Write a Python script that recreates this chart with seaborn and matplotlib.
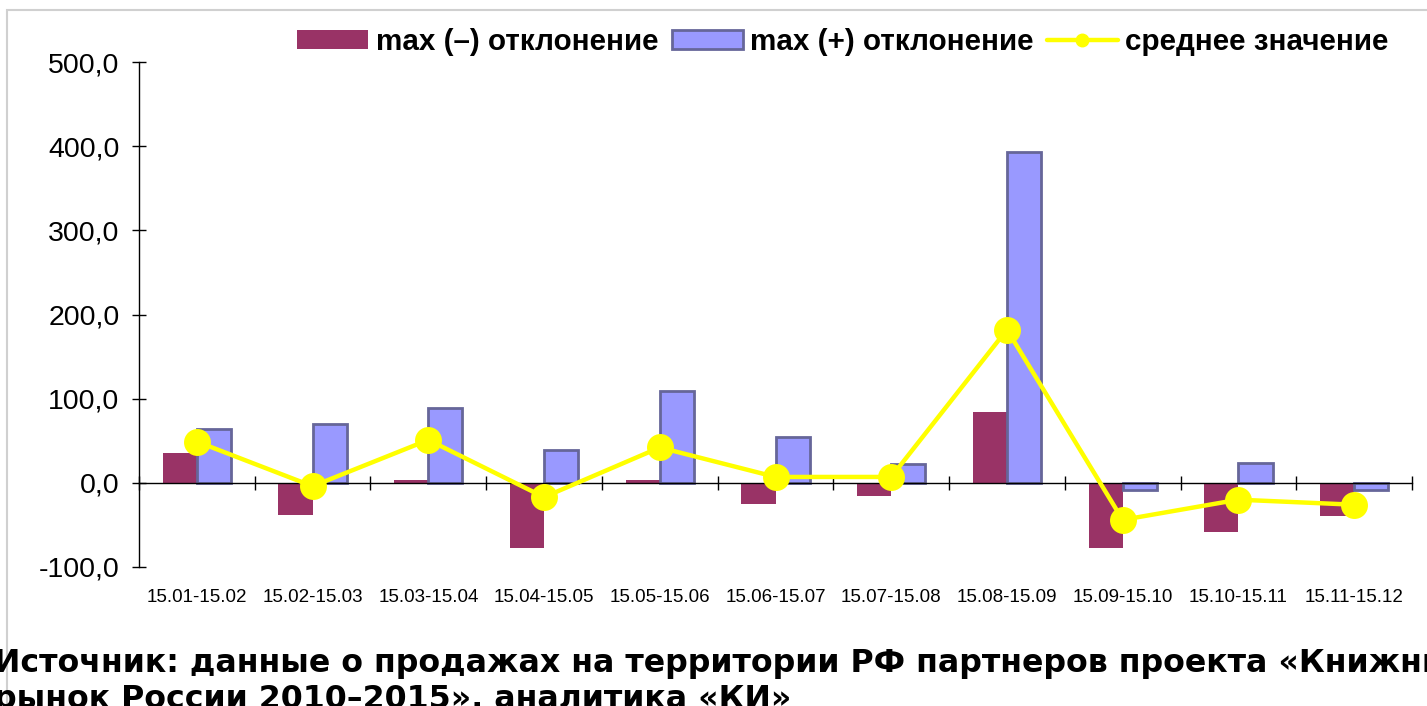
import pandas as pd
import matplotlib.pyplot as plt
import seaborn as sns
from matplotlib.patches import Patch, Rectangle
from matplotlib.lines import Line2D

# data
periods = ['15.01-15.02', '15.02-15.03', '15.03-15.04', '15.04-15.05', '15.05-15.06',
           '15.06-15.07', '15.07-15.08', '15.08-15.09', '15.09-15.10', '15.10-15.11',
           '15.11-15.12']
max_neg = [35, -38, 3, -78, 3, -25, -16, 84, -78, -58, -39]
max_pos = [64, 70, 89, 39, 109, 55, 22, 393, -8, 24, -8]
mean_val = [49, -4, 51, -17, 42, 7, 7, 182, -44, -20, -26]
yticks = [-100, 0, 100, 200, 300, 400, 500]

neg_label = 'max (–) отклонение'
pos_label = 'max (+) отклонение'
mean_label = 'среднее значение'

maroon = '#993366'
blue = '#9999FF'
edge = '#666699'
yellow = '#FFFF00'

df = pd.DataFrame({
    'period': periods * 2,
    'value': max_neg + max_pos,
    'series': [neg_label] * len(periods) + [pos_label] * len(periods),
})

sns.set_style('white')
plt.rcParams['font.family'] = ['Liberation Sans', 'DejaVu Sans']
plt.rcParams['text.color'] = 'black'
plt.rcParams['xtick.color'] = 'black'
plt.rcParams['ytick.color'] = 'black'

fig = plt.figure(figsize=(14.27, 7.06), dpi=100)
ax = fig.add_axes([139 / 1427, 1 - 567 / 706, (1412 - 139) / 1427, (567 - 62) / 706])

sns.barplot(data=df, x='period', y='value', hue='series', palette=[maroon, blue],
            width=0.59, saturation=1, errorbar=None, legend=False, ax=ax)
for bar in ax.containers[0]:
    bar.set_edgecolor('none')
for bar in ax.containers[1]:
    bar.set_edgecolor(edge)
    bar.set_linewidth(2)

n_lines = len(ax.lines)
n_coll = len(ax.collections)
sns.pointplot(x=periods, y=mean_val, color=yellow, errorbar=None,
              markersize=17, linewidth=3.2, ax=ax)
for ln in ax.lines[n_lines:]:
    ln.set_zorder(6)
for c in ax.collections[n_coll:]:
    c.set_zorder(6)

ax.set_xlim(-0.5, len(periods) - 0.5)
ax.set_ylim(-100, 500)
ax.set_xlabel('')
ax.set_ylabel('')

ax.spines['top'].set_visible(False)
ax.spines['right'].set_visible(False)
ax.spines['left'].set_color('black')
ax.spines['left'].set_linewidth(1)
ax.spines['bottom'].set_position(('data', 0))
ax.spines['bottom'].set_color('black')
ax.spines['bottom'].set_linewidth(1)
ax.spines['bottom'].set_zorder(3)

ax.set_yticks(yticks)
ax.set_yticklabels([f'{v:.1f}'.replace('.', ',') for v in yticks], fontsize=20.5)
ax.tick_params(axis='y', direction='inout', length=10, width=1, color='black', pad=9,
               left=True)

ax.set_xticks([i - 0.5 for i in range(len(periods) + 1)])
ax.set_xticklabels([])
ax.tick_params(axis='x', direction='inout', length=10, width=1, color='black', bottom=True)

sec = ax.secondary_xaxis(0)
sec.set_xticks(range(len(periods)))
sec.set_xticklabels(periods, fontsize=13.5)
sec.tick_params(length=0, pad=16)
sec.spines['bottom'].set_visible(False)

handles = [
    Patch(facecolor=maroon, edgecolor='none'),
    Patch(facecolor=blue, edgecolor=edge, linewidth=2),
    Line2D([], [], color=yellow, linewidth=3.2, marker='o', markersize=9),
]
fig.legend(handles, [neg_label, pos_label, mean_label], loc='center',
           bbox_to_anchor=(843 / 1427, 1 - 42 / 706), ncol=3, frameon=False,
           prop={'weight': 'bold', 'size': 21.3}, handlelength=2.4, handleheight=0.6,
           handletextpad=0.25, columnspacing=0.45)

# light grey frame of the chart area
fig.add_artist(Rectangle((7 / 1427, -0.2), 1.2, 1.2 - 10 / 706, transform=fig.transFigure,
                         fill=False, edgecolor='#D0D0D0', linewidth=1.5))

# source note under the chart (cut by the image edges, as in the original)
caption_1 = 'Источник: данные о продажах на территории РФ партнеров проекта «Книжный'
caption_2 = 'рынок России 2010–2015», аналитика «КИ»'
fig.text(-6 / 1427, 1 - 672 / 706, caption_1, family='DejaVu Sans', weight='bold',
         fontsize=22.8, va='baseline', ha='left')
fig.text(-6 / 1427, 1 - 708 / 706, caption_2, family='DejaVu Sans', weight='bold',
         fontsize=22.8, va='baseline', ha='left')

fig.savefig('out.png', dpi=100)
